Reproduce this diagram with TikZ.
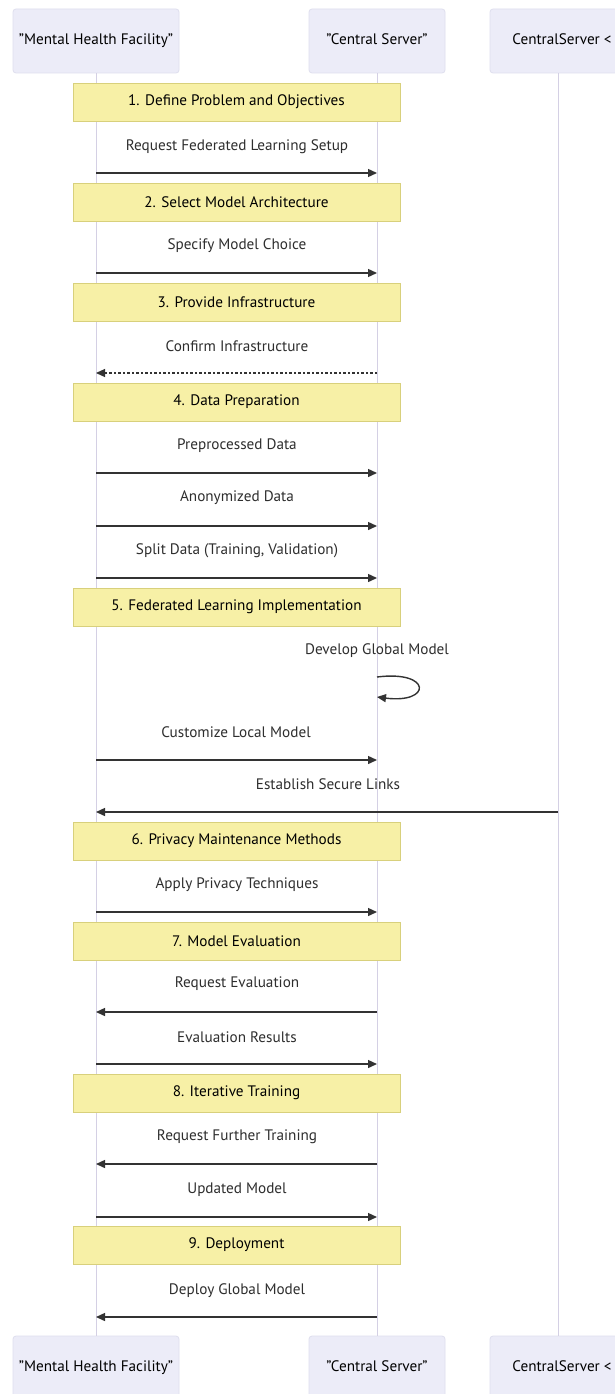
\documentclass[tikz,border=0pt]{standalone}
\usepackage{fontspec}
\setmainfont{PT Sans}
\usetikzlibrary{arrows.meta}
\definecolor{actfill}{HTML}{ECECF8}
\definecolor{actdraw}{HTML}{DFDFEE}
\definecolor{lifecol}{HTML}{D4D0E4}
\definecolor{notefill}{HTML}{F7F0A6}
\definecolor{notedraw}{HTML}{D8D07C}
\definecolor{msgtext}{HTML}{2E2E2E}
\definecolor{linecol}{HTML}{333333}
\tikzset{
  actor/.style={draw=actdraw, fill=actfill, rounded corners=3pt, line width=0.8pt,
    minimum height=64pt, inner sep=0pt, font=\fontsize{15.2}{17}\selectfont, text=black},
  life/.style={draw=lifecol, line width=1pt},
  notebox/.style={draw=notedraw, fill=notefill, line width=0.8pt, minimum width=327pt,
    minimum height=38pt, inner sep=0pt, font=\fontsize{15.2}{17}\selectfont, text=black},
  msg/.style={font=\fontsize{15.2}{17}\selectfont, text=msgtext, inner sep=0pt},
  arr/.style={draw=linecol, line width=1.4pt, -{Triangle[length=9pt,width=8pt]}},
  darr/.style={draw=linecol, line width=1.2pt, dash pattern=on 2.5pt off 2pt,
    -{Triangle[length=9pt,width=8pt]}},
}
\begin{document}
\begin{tikzpicture}[x=1pt,y=-1pt]
\useasboundingbox (0,0) rectangle (614,1394);
\fill[white] (0,0) rectangle (614,1394);

% actors (top and bottom)
\node[actor, minimum width=166pt] (mhfT) at (96,41) {\raisebox{3pt}{"Mental Health Facility"}};
\node[actor, minimum width=136pt] (csT) at (377,41) {\raisebox{3pt}{"Central Server"}};
\node[actor, minimum width=136pt] (crT) at (558,41) {\raisebox{3pt}{\hspace*{8pt}CentralServer <}};
\node[actor, minimum width=166pt] (mhfB) at (96,1368) {\raisebox{3pt}{"Mental Health Facility"}};
\node[actor, minimum width=136pt] (csB) at (377,1368) {\raisebox{3pt}{"Central Server"}};
\node[actor, minimum width=136pt] (crB) at (558,1368) {\raisebox{3pt}{\hspace*{8pt}CentralServer <}};

% lifelines
\draw[life] (mhfT.south) -- (mhfB.north);
\draw[life] (csT.south) -- (csB.north);
\draw[life] (crT.south) -- (crB.north);

% notes
\node[notebox] (n1) at (236.5,102) {1. Define Problem and Objectives};
\node[notebox] (n2) at (236.5,202) {2. Select Model Architecture};
\node[notebox] (n3) at (236.5,302) {3. Provide Infrastructure};
\node[notebox] (n4) at (236.5,402) {4. Data Preparation};
\node[notebox] (n5) at (236.5,607) {5. Federated Learning Implementation};
\node[notebox] (n6) at (236.5,841) {6. Privacy Maintenance Methods};
\node[notebox] (n7) at (236.5,941) {7. Model Evaluation};
\node[notebox] (n8) at (236.5,1093) {8. Iterative Training};
\node[notebox] (n9) at (236.5,1245) {9. Deployment};

% message end points
\foreach \i/\y in {1/173,2/273,3/373,4/473,5/526,6/578,8/760,9/812,10/912,11/1012,12/1064,13/1164,14/1217,15/1317}{
  \coordinate (a\i) at (96,\y);
  \coordinate (b\i) at (377,\y);
  \coordinate (c\i) at (558,\y);
}
\coordinate (s1) at (377,677);
\coordinate (s2) at (377,697);

% message labels
\node[msg] (l1) at (237,147) {Request Federated Learning Setup};
\node[msg] (l2) at (237,246) {Specify Model Choice};
\node[msg] (l3) at (237,346) {Confirm Infrastructure};
\node[msg] (l4) at (237,446) {Preprocessed Data};
\node[msg] (l5) at (237,498) {Anonymized Data};
\node[msg] (l6) at (237,551) {Split Data (Training, Validation)};
\node[msg] (l7) at (377,651) {Develop Global Model};
\node[msg] (l8) at (236,732) {Customize Local Model};
\node[msg] (l9) at (328,784) {Establish Secure Links};
\node[msg] (l10) at (237,885) {Apply Privacy Techniques};
\node[msg] (l11) at (237,984) {Request Evaluation};
\node[msg] (l12) at (237,1037) {Evaluation Results};
\node[msg] (l13) at (237,1137) {Request Further Training};
\node[msg] (l14) at (237,1190) {Updated Model};
\node[msg] (l15) at (237,1291) {Deploy Global Model};

% messages
\draw[arr] (a1) -- (b1);
\draw[arr] (a2) -- (b2);
\draw[darr] (b3) -- (a3);
\draw[arr] (a4) -- (b4);
\draw[arr] (a5) -- (b5);
\draw[arr] (a6) -- (b6);
\draw[arr] (s1) .. controls (432,670) and (432,704) .. (s2);
\draw[arr] (a8) -- (b8);
\draw[arr] (c9) -- (a9);
\draw[arr] (a10) -- (b10);
\draw[arr] (b11) -- (a11);
\draw[arr] (a12) -- (b12);
\draw[arr] (b13) -- (a13);
\draw[arr] (a14) -- (b14);
\draw[arr] (b15) -- (a15);
\end{tikzpicture}
\end{document}
